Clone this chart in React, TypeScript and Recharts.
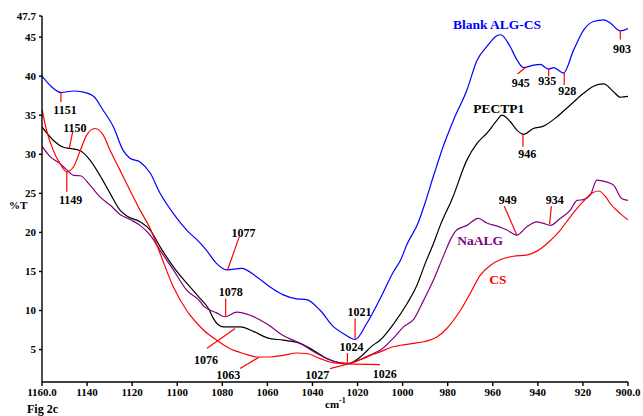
import React from 'react';
import { LineChart, Line, XAxis, YAxis, ReferenceLine, ReferenceDot } from 'recharts';

// wavenumber (cm-1) and %T, one pair of arrays per spectrum
const blankWn = [1160, 1156, 1151.5, 1146, 1141.5, 1137, 1133, 1128.3, 1124, 1121, 1116.5, 1112, 1107.6, 1101.7, 1095.8, 1090, 1087, 1082.5, 1078, 1071.4, 1064.7, 1058.8, 1053, 1047, 1042.6, 1036.5, 1030.6, 1026, 1021, 1016, 1010, 1004, 1001, 998, 993, 990, 986, 982, 977.4, 971.5, 967, 962.6, 958, 956.5, 952.3, 949.3, 946.4, 942, 939, 935.3, 933, 928.6, 924.2, 919.7, 915.3, 910.8, 907.9, 903.4, 900];
const blankT = [40.0, 38.7, 37.9, 38.1, 37.95, 37.4, 35.7, 33.5, 30.5, 29.5, 29.0, 27.6, 25.0, 22.4, 20.3, 18.7, 17.7, 16.0, 15.2, 15.4, 14.3, 13.0, 12.0, 11.5, 11.4, 10.0, 7.9, 7.0, 6.3, 8.3, 11.5, 15.0, 16.4, 18.5, 21.3, 23.8, 27.5, 31.0, 34.4, 38.2, 42.0, 43.8, 45.2, 45.3, 43.8, 42.1, 41.1, 41.4, 41.5, 40.9, 41.1, 40.4, 43.3, 45.9, 47.0, 47.2, 46.8, 45.8, 46.1];

const pectWn = [1160, 1155, 1150.5, 1147.6, 1143, 1138.7, 1134.3, 1129.8, 1125.4, 1122.4, 1116.5, 1112, 1107.6, 1101.7, 1095.8, 1090, 1086, 1084, 1079.5, 1072, 1066, 1060, 1053, 1045.5, 1039.6, 1033.6, 1027.7, 1024, 1018.8, 1013, 1010, 1004, 998, 994, 990, 986, 983.3, 978, 971.5, 967, 962.6, 958, 956, 952.3, 949.3, 946.4, 942, 937.5, 931.5, 925.6, 919.7, 915.3, 910.8, 906.4, 903.4, 900];
const pectT = [33.5, 31.8, 30.9, 30.75, 30.45, 29.25, 27.3, 25.0, 22.85, 22.1, 21.35, 20.3, 18.15, 15.6, 13.5, 11.6, 10.2, 9.0, 7.9, 7.9, 7.3, 6.5, 6.2, 5.8, 4.9, 3.85, 3.3, 3.2, 4.05, 5.6, 6.2, 8.3, 10.9, 13.0, 16.0, 18.8, 20.9, 24.3, 29.25, 31.4, 32.7, 34.4, 35.0, 34.2, 33.1, 32.55, 33.3, 33.6, 34.8, 36.3, 37.8, 38.7, 39.0, 38.0, 37.3, 37.4];

const naalgWn = [1160, 1156.4, 1152, 1149, 1146, 1143, 1138.7, 1134.3, 1129.8, 1125.4, 1121, 1116.5, 1112, 1107.6, 1101.7, 1095.8, 1090, 1088.4, 1082.5, 1078.8, 1073.6, 1067.7, 1060.3, 1053, 1045.5, 1038, 1030.6, 1024.7, 1019, 1013, 1010, 1004, 999.6, 995, 990.7, 986.3, 982, 978.2, 976, 971.5, 966.4, 962.6, 958, 953.7, 949.3, 945, 940.4, 937.5, 934.5, 930, 925.6, 922.6, 919.7, 916.7, 913.8, 910, 906.4, 902.7, 900];
const naalgT = [31.0, 29.7, 28.8, 28.0, 27.3, 27.25, 26.05, 24.55, 23.5, 22.3, 21.65, 20.9, 19.65, 17.7, 15.2, 12.6, 11.2, 10.6, 9.7, 9.2, 9.8, 9.4, 8.3, 6.8, 5.8, 4.5, 3.5, 3.2, 3.7, 4.5, 4.9, 6.5, 7.9, 8.9, 11.3, 13.9, 16.9, 19.4, 20.3, 20.9, 21.8, 21.2, 20.8, 20.3, 19.65, 20.7, 21.35, 21.15, 20.9, 21.8, 22.85, 24.1, 24.2, 24.8, 26.7, 26.5, 26.05, 24.3, 24.1];

const csWn = [1160, 1158, 1155, 1152, 1149, 1146, 1143, 1140.2, 1136.5, 1132.8, 1129.8, 1125.4, 1121, 1116.5, 1112, 1107.6, 1101.7, 1095.8, 1094.3, 1088.4, 1082.5, 1076.5, 1070.6, 1064.7, 1058.8, 1053, 1047, 1042.6, 1036.6, 1030.6, 1024.7, 1018, 1013, 1010, 1005, 1001, 995, 990.7, 984.8, 980.4, 974.4, 970, 965.6, 961, 956.7, 950.8, 945, 940.4, 935, 930, 925.6, 920, 915.5, 913, 910, 907.9, 903.4, 900];
const csT = [35.8, 33.1, 30.5, 28.8, 27.75, 28.4, 30.5, 32.45, 33.3, 32.45, 30.5, 27.97, 25.4, 22.85, 20.5, 17.3, 13.0, 10.0, 9.4, 7.5, 6.2, 5.1, 4.5, 4.05, 4.05, 4.27, 4.56, 4.5, 3.85, 3.3, 3.2, 3.8, 4.4, 4.7, 5.3, 5.55, 5.8, 6.0, 6.6, 7.7, 10.0, 12.2, 14.5, 15.8, 16.5, 16.95, 17.1, 17.6, 18.8, 20.3, 22.0, 23.9, 25.1, 25.3, 24.6, 23.7, 22.4, 21.6];

const xTicks = [1160, 1140, 1120, 1100, 1080, 1060, 1040, 1020, 1000, 980, 960, 940, 920, 900];
const yTicks = [5, 10, 15, 20, 25, 30, 35, 40, 45, 47.7];

// peak labels: text, label position, pointer start and end (data units)
const peakNames = ['1151', '1150', '1149', '1077', '1078', '1076', '1063', '1027', '1024', '1026', '1021', '945', '935', '928', '903', '946', '949', '934'];
const peakLabelAt = [[1149.8, 35.7], [1145.4, 33.44], [1147.3, 24.22], [1070.6, 19.94], [1076.3, 12.34], [1087.2, 3.63], [1077.4, 1.71], [1037.9, 1.71], [1022.7, 5.34], [1007.9, 1.93], [1019.1, 9.82], [947.6, 39.15], [935.8, 39.41], [926.9, 38.09], [902.7, 43.47], [944.7, 30.02], [953.4, 24.13], [932.5, 24.13]];
const pointerFrom = [[1151.6, 37.9], [1146.4, 32.88], [1149.0, 27.75], [1072.5, 19.43], [1078.5, 11.54], [1086.8, 5.17], [1072.1, 2.57], [1032.2, 2.57], [1024.5, 4.57], [1026.8, 3.18], [1021.1, 8.97], [949.0, 40.27], [935.2, 41.0], [928.3, 40.44], [903.4, 45.9], [946.6, 32.67], [954.9, 23.36], [934.0, 23.36]];
const pointerTo = [[1151.6, 36.7], [1147.9, 30.75], [1149.0, 25.19], [1077.7, 15.16], [1078.5, 9.18], [1074.3, 7.69], [1063.7, 4.02], [1024.6, 3.12], [1024.5, 3.21], [1010.0, 3.08], [1021.1, 6.41], [945.1, 41.2], [935.2, 40.0], [928.3, 38.86], [903.4, 44.7], [946.6, 30.96], [949.3, 19.65], [934.8, 21.05]];

const seriesNames = ['Blank ALG-CS', 'PECTP1', 'NaALG', 'CS'];
const seriesColors = ['#0000ff', '#000000', '#800080', '#ff0000'];
const seriesLabelAt = [[977.7, 46.68], [968.7, 35.85], [975.8, 18.94], [961.6, 13.94]];

const toPoints = (wn: number[], t: number[]) => wn.map((w, i) => ({ wn: w, t: t[i] }));

const font = '"Liberation Serif", "Times New Roman", serif';

export default function App() {
  const series = [
    toPoints(blankWn, blankT),
    toPoints(pectWn, pectT),
    toPoints(naalgWn, naalgT),
    toPoints(csWn, csT),
  ];

  const tickStyle = { fontFamily: font, fontWeight: 700, fontSize: 11, fill: '#000' };

  return (
    <div style={{ position: 'absolute', left: 0, top: 0, width: 643, height: 416, background: '#fff', fontFamily: font }}>
      <LineChart width={643} height={416} margin={{ top: 16, right: 15, left: 0, bottom: 0 }}>
        <XAxis
          dataKey="wn"
          type="number"
          domain={[900, 1160]}
          reversed
          ticks={xTicks}
          interval={0}
          height={34}
          tick={tickStyle}
          tickSize={4}
          tickMargin={2}
          stroke="#000"
          strokeWidth={1.4}
          tickFormatter={(v: number) => (v === 1160 || v === 900 ? v.toFixed(1) : String(v))}
          allowDataOverflow
        />
        <YAxis
          type="number"
          domain={[0.85, 47.7]}
          ticks={yTicks}
          interval={0}
          width={42}
          tick={tickStyle}
          tickSize={3}
          tickMargin={3}
          stroke="#000"
          strokeWidth={1.4}
          allowDataOverflow
        />
        {series.map((pts, i) => (
          <Line
            key={seriesNames[i]}
            data={pts}
            dataKey="t"
            type="monotone"
            stroke={seriesColors[i]}
            strokeWidth={1.2}
            dot={false}
            isAnimationActive={false}
          />
        ))}
        {peakNames.map((name, i) => (
          <ReferenceLine
            key={'p' + name}
            segment={[
              { x: pointerFrom[i][0], y: pointerFrom[i][1] },
              { x: pointerTo[i][0], y: pointerTo[i][1] },
            ]}
            stroke="#ff0000"
            strokeWidth={1.2}
            ifOverflow="visible"
          />
        ))}
        {peakNames.map((name, i) => (
          <ReferenceDot
            key={'l' + name}
            x={peakLabelAt[i][0]}
            y={peakLabelAt[i][1]}
            r={0}
            ifOverflow="visible"
            shape={(p: any) => (
              <text x={p.cx} y={p.cy} dy="0.35em" textAnchor="middle" fontFamily={font} fontWeight={700} fontSize={12} fill="#000">
                {name}
              </text>
            )}
          />
        ))}
        {seriesNames.map((name, i) => (
          <ReferenceDot
            key={'s' + name}
            x={seriesLabelAt[i][0]}
            y={seriesLabelAt[i][1]}
            r={0}
            ifOverflow="visible"
            shape={(p: any) => (
              <text x={p.cx} y={p.cy} dy="0.35em" textAnchor="start" fontFamily={font} fontWeight={700} fontSize={13.5} fill={seriesColors[i]}>
                {name}
              </text>
            )}
          />
        ))}
      </LineChart>
      <div style={{ position: 'absolute', left: 9, top: 199, fontWeight: 700, fontSize: 11 }}>%T</div>
      <div style={{ position: 'absolute', left: 325, top: 396, fontWeight: 700, fontSize: 11 }}>
        cm<sup style={{ fontSize: 8 }}>-1</sup>
      </div>
      <div style={{ position: 'absolute', left: 27, top: 402, fontWeight: 700, fontSize: 12 }}>Fig 2c</div>
    </div>
  );
}
